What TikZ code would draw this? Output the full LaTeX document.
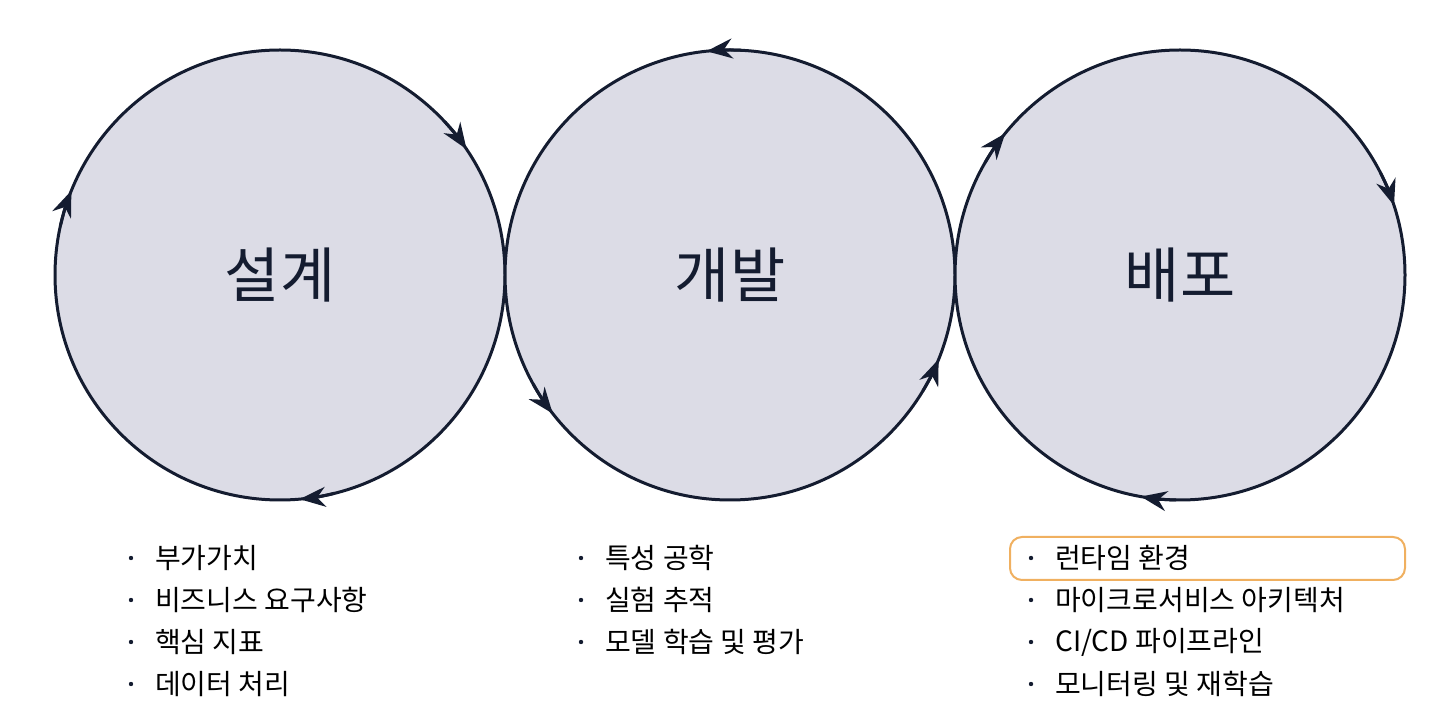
\documentclass[tikz,border=0pt]{standalone}
\usepackage{fontspec}
\setmainfont{Noto Sans CJK KR}
\usetikzlibrary{arrows.meta,calc}
\definecolor{ink}{HTML}{141C30}
\definecolor{disk}{HTML}{DCDCE6}
\definecolor{hl}{HTML}{F0B060}
\begin{document}
\begin{tikzpicture}[x=1pt,y=1pt,
  ring/.style={draw=ink,line width=3pt,fill=disk},
  tip/.style={draw=ink,line width=3pt,-{Stealth[length=26pt,width=20pt]}},
  title/.style={font=\fontsize{60}{66}\selectfont,text=ink},
  item/.style={font=\fontsize{28}{32}\selectfont,text=black,anchor=west,inner sep=0pt}]
\useasboundingbox (0,0) rectangle (1456,720);
\fill[white] (0,0) rectangle (1456,720);
\coordinate (c1) at (280,445);
\coordinate (c2) at (730,445);
\coordinate (c3) at (1180,445);
\foreach \c in {c1,c2,c3} \draw[ring] (\c) circle[radius=225];
% clockwise arrows
\foreach \c/\a in {c1/34,c1/158,c1/275,c3/141,c3/18,c3/260}
  \draw[tip] ($(\c)+(\a+9:225)$) arc[start angle=\a+9,end angle=\a,radius=225];
% counterclockwise arrows
\foreach \c/\a in {c2/96,c2/218,c2/-22}
  \draw[tip] ($(\c)+(\a-9:225)$) arc[start angle=\a-9,end angle=\a,radius=225];
\node[title] (t1) at (c1) {설계};
\node[title] (t2) at (c2) {개발};
\node[title] (t3) at (c3) {배포};
\draw[hl,line width=2pt,rounded corners=12pt] (1010,140) rectangle (1405,183);
\foreach \x/\n/\lst in {155/a/{부가가치,비즈니스 요구사항,핵심 지표,데이터 처리},
                       605/b/{특성 공학,실험 추적,모델 학습 및 평가},
                       1055/c/{런타임 환경,마이크로서비스 아키텍처,CI/CD 파이프라인,모니터링 및 재학습}}{
  \foreach \t [count=\i] in \lst {
    \node[item] (\n\i) at (\x,{162-(\i-1)*42}) {\t};
    \fill[ink] (\x-24,{162-(\i-1)*42}) circle[radius=2.2];
  }
}
\end{tikzpicture}
\end{document}
